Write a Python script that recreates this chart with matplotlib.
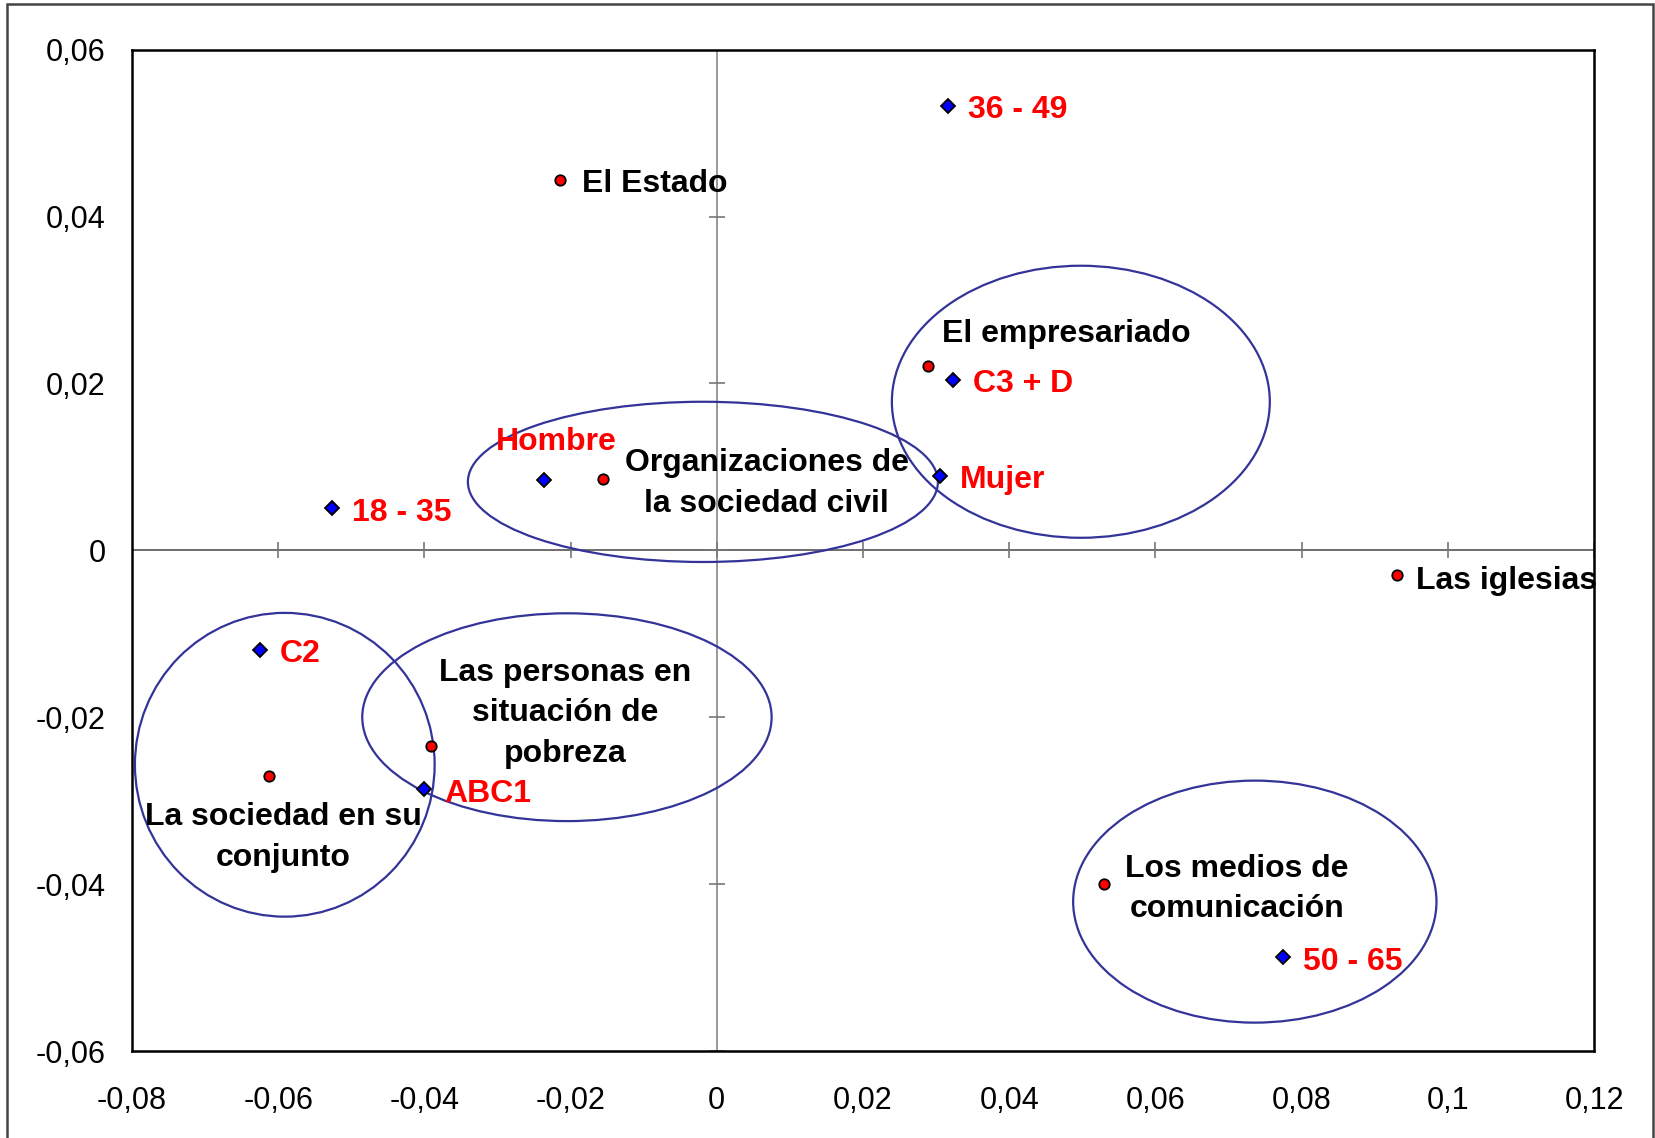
import numpy as np
import matplotlib.pyplot as plt
from matplotlib.patches import Ellipse, Rectangle

plt.rcParams['font.family'] = ['Liberation Sans', 'DejaVu Sans']

# institutions (red circles)
inst_names = ["El Estado", "El empresariado", "Organizaciones de\nla sociedad civil",
              "Las iglesias", "Las personas en\nsituación de\npobreza",
              "La sociedad en su\nconjunto", "Los medios de\ncomunicación"]
inst_x = [-0.0214, 0.0289, -0.0156, 0.0930, -0.0391, -0.0612, 0.0530]
inst_y = [0.0444, 0.0221, 0.0085, -0.0030, -0.0235, -0.0271, -0.0400]

# groups (blue diamonds)
grp_names = ["36 - 49", "C3 + D", "Mujer", "Hombre", "18 - 35", "C2", "ABC1", "50 - 65"]
grp_x = [0.0316, 0.0323, 0.0305, -0.0237, -0.0527, -0.0625, -0.0401, 0.0775]
grp_y = [0.0533, 0.0204, 0.0089, 0.0084, 0.0051, -0.0119, -0.0286, -0.0487]

# ellipses around the clusters
ell_cx = [0.0498, -0.0019, -0.0205, -0.0591, 0.0736]
ell_cy = [0.0178, 0.0082, -0.0200, -0.0257, -0.0421]
ell_w = [0.0517, 0.0643, 0.0560, 0.0410, 0.0497]
ell_h = [0.0326, 0.0192, 0.0249, 0.0364, 0.0290]

xticks = [-0.08, -0.06, -0.04, -0.02, 0.0, 0.02, 0.04, 0.06, 0.08, 0.1, 0.12]
xtick_labels = ["-0,08", "-0,06", "-0,04", "-0,02", "0", "0,02", "0,04", "0,06", "0,08", "0,1", "0,12"]
yticks = [-0.06, -0.04, -0.02, 0.0, 0.02, 0.04, 0.06]
ytick_labels = ["-0,06", "-0,04", "-0,02", "0", "0,02", "0,04", "0,06"]

# label offsets in pixels (dx, dy, ha)
inst_off = [(22, -4, 'left'), (138, 32, 'center'), (164, -4, 'center'), (19, -6, 'left'),
            (134, 33, 'center'), (14, -61, 'center'), (133, -5, 'center')]
grp_off = [(20, -4, 'left'), (20, -4, 'left'), (20, -4, 'left'), (13, 38, 'center'),
           (20, -5, 'left'), (20, -4, 'left'), (21, -5, 'left'), (20, -5, 'left')]

FS = 23

fig = plt.figure(figsize=(16.55, 11.38), dpi=100)
ax = fig.add_axes([132 / 1655, 1 - 1051 / 1138, (1594 - 132) / 1655, (1051 - 49.6) / 1138])
ax.set_xlim(xticks[0], xticks[-1])
ax.set_ylim(yticks[0], yticks[-1])

for s in ax.spines.values():
    s.set_linewidth(1.8)
    s.set_color('black')

ax.set_xticks(xticks)
ax.set_xticklabels(xtick_labels, fontsize=22)
ax.set_yticks(yticks)
ax.set_yticklabels(ytick_labels, fontsize=22)
ax.tick_params(axis='x', length=0, pad=25)
ax.tick_params(axis='y', length=0, pad=19)

# crossing axes through the origin, Excel style
ax.axhline(0, color='#555555', lw=1.2, zorder=1)
ax.axvline(0, color='#888888', lw=1.2, zorder=1)
ax.plot(xticks, np.zeros(len(xticks)), ls='none', marker='|', ms=12, mew=1.2, color='#777777', zorder=1)
ax.plot(np.zeros(len(yticks)), yticks, ls='none', marker='_', ms=12, mew=1.2, color='#777777', zorder=1)

for i in range(len(ell_cx)):
    e = Ellipse((ell_cx[i], ell_cy[i]), ell_w[i], ell_h[i], fill=False,
                ec='#333399', lw=1.6, zorder=2)
    ax.add_patch(e)

ax.plot(inst_x, inst_y, ls='none', marker='o', ms=7.5, mfc='#ff0000', mec='black', mew=1.3, zorder=4)
ax.plot(grp_x, grp_y, ls='none', marker='D', ms=7.5, mfc='#0000ff', mec='black', mew=1.3, zorder=4)

for i, name in enumerate(inst_names):
    dx, dy, ha = inst_off[i]
    ax.annotate(name, (inst_x[i], inst_y[i]), xytext=(dx, dy), textcoords='offset pixels',
                ha=ha, va='center', fontsize=FS, fontweight='bold', color='black',
                multialignment='center', linespacing=1.45, zorder=5)

for i, name in enumerate(grp_names):
    dx, dy, ha = grp_off[i]
    ax.annotate(name, (grp_x[i], grp_y[i]), xytext=(dx, dy), textcoords='offset pixels',
                ha=ha, va='center', fontsize=FS, fontweight='bold', color='#ff0000', zorder=5)

# outer frame of the picture
fig.add_artist(Rectangle((7 / 1655, -0.01), (1653 - 7) / 1655, 1.01 - 3.5 / 1138,
                         transform=fig.transFigure, fill=False, ec='#444444', lw=1.8))

fig.savefig('out.png', dpi=100)
